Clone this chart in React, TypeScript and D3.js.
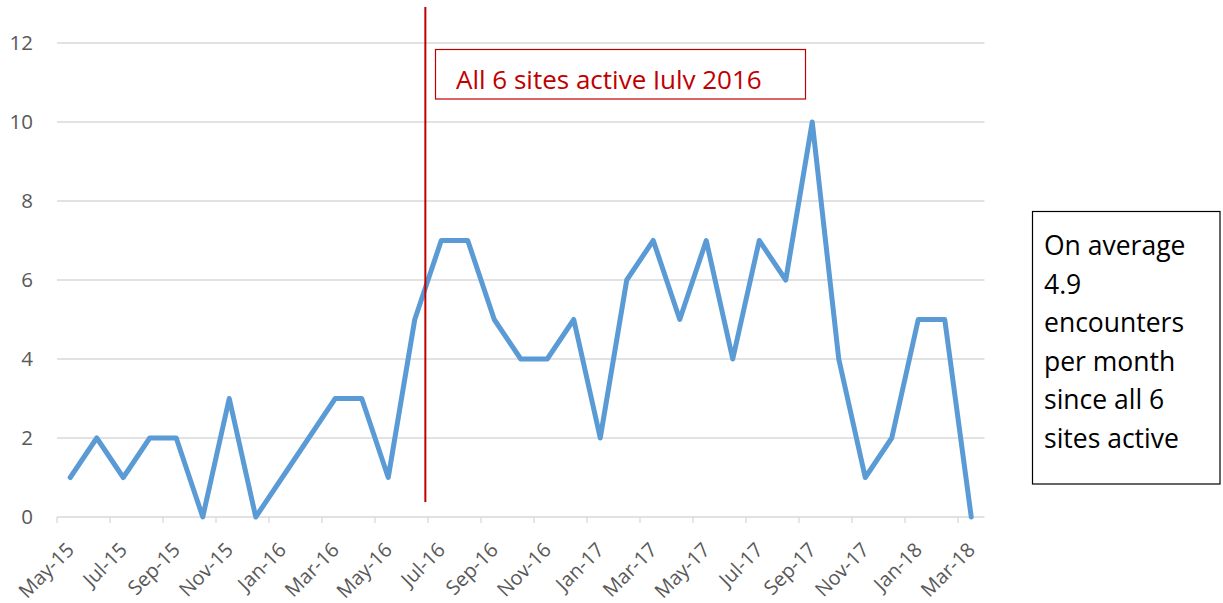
import React, { useRef, useEffect } from "react";
import * as d3 from "d3";

// monthly counts, May-15 .. Mar-18
const months = [
  "May-15", "Jun-15", "Jul-15", "Aug-15", "Sep-15", "Oct-15", "Nov-15", "Dec-15",
  "Jan-16", "Feb-16", "Mar-16", "Apr-16", "May-16", "Jun-16", "Jul-16", "Aug-16",
  "Sep-16", "Oct-16", "Nov-16", "Dec-16", "Jan-17", "Feb-17", "Mar-17", "Apr-17",
  "May-17", "Jun-17", "Jul-17", "Aug-17", "Sep-17", "Oct-17", "Nov-17", "Dec-17",
  "Jan-18", "Feb-18", "Mar-18",
];
const encounters = [
  1, 2, 1, 2, 2, 0, 3, 0,
  1, 2, 3, 3, 1, 5, 7, 7, 5, 4, 4, 5,
  2, 6, 7, 5, 7, 4, 7, 6, 10, 4, 1, 2,
  5, 5, 0,
];
const yTicks = [0, 2, 4, 6, 8, 10, 12];
const markerMonth = 13.9; // just before Jul-16 starts
const markerLabel = "All 6 sites active July 2016";
const noteLines = ["On average", "4.9", "encounters", "per month", "since all 6", "sites active"];

const W = 1223;
const H = 603;
const FONT = "'Open Sans', 'Noto Sans', sans-serif";

const App = () => {
  const svgRef = useRef<SVGSVGElement>(null);

  useEffect(() => {
    const svg = d3.select(svgRef.current);
    svg.selectAll("*").remove();

    const left = 57;
    const right = 984.5;
    const x = d3.scaleBand<string>().domain(months).range([left, right]).padding(0);
    const xLin = d3.scaleLinear().domain([0, months.length]).range([left, right]);
    const y = d3.scaleLinear().domain([0, 12]).range([517, 43]);
    const bw = x.bandwidth();

    // gridlines
    svg.append("g")
      .selectAll("line")
      .data(yTicks)
      .join("line")
      .attr("x1", left)
      .attr("x2", right)
      .attr("y1", (d) => y(d))
      .attr("y2", (d) => y(d))
      .attr("stroke", "#d9d9d9")
      .attr("stroke-width", 1.3);

    // y labels
    svg.append("g")
      .selectAll("text")
      .data(yTicks)
      .join("text")
      .attr("x", 33)
      .attr("y", (d) => y(d))
      .attr("dy", "0.36em")
      .attr("text-anchor", "end")
      .attr("font-family", FONT)
      .attr("font-size", 20.5)
      .attr("fill", "#595959")
      .text((d) => d);

    // x ticks every 2 months
    const every2 = months.filter((_, i) => i % 2 === 0);
    svg.append("g")
      .selectAll("line")
      .data(every2)
      .join("line")
      .attr("x1", (d) => x(d)!)
      .attr("x2", (d) => x(d)!)
      .attr("y1", y(0))
      .attr("y2", y(0) + 6)
      .attr("stroke", "#d9d9d9")
      .attr("stroke-width", 1.3);

    svg.append("g")
      .selectAll("text")
      .data(every2)
      .join("text")
      .attr("transform", (d) => `translate(${x(d)! + bw / 2},${y(0) + 29}) rotate(-45)`)
      .attr("dy", "0.36em")
      .attr("text-anchor", "end")
      .attr("font-family", FONT)
      .attr("font-size", 20)
      .attr("fill", "#595959")
      .text((d) => d);

    // the series
    const ln = d3.line<number>()
      .x((_, i) => x(months[i])! + bw / 2)
      .y((d) => y(d));
    svg.append("path")
      .datum(encounters)
      .attr("d", ln)
      .attr("fill", "none")
      .attr("stroke", "#5b9bd5")
      .attr("stroke-width", 5)
      .attr("stroke-linejoin", "round")
      .attr("stroke-linecap", "round");

    // marker line
    svg.append("line")
      .attr("x1", xLin(markerMonth))
      .attr("x2", xLin(markerMonth))
      .attr("y1", y(12.91))
      .attr("y2", y(0.38))
      .attr("stroke", "#c00000")
      .attr("stroke-width", 2);

    // marker label box (text clipped at its baseline, as in the source)
    svg.append("clipPath")
      .attr("id", "lblclip")
      .append("rect")
      .attr("x", 436)
      .attr("y", 50)
      .attr("width", 368)
      .attr("height", 39.5);
    svg.append("rect")
      .attr("x", 435.5)
      .attr("y", 49.5)
      .attr("width", 370)
      .attr("height", 49.5)
      .attr("fill", "#fff")
      .attr("stroke", "#c00000")
      .attr("stroke-width", 1.2);
    svg.append("text")
      .attr("clip-path", "url(#lblclip)")
      .attr("x", 456)
      .attr("y", 89)
      .attr("font-family", FONT)
      .attr("font-size", 26)
      .attr("fill", "#c00000")
      .text(markerLabel);

    // note box
    svg.append("rect")
      .attr("x", 1032.5)
      .attr("y", 211.5)
      .attr("width", 187.5)
      .attr("height", 272.5)
      .attr("fill", "#fff")
      .attr("stroke", "#000")
      .attr("stroke-width", 1.2);
    svg.append("g")
      .selectAll("text")
      .data(noteLines)
      .join("text")
      .attr("x", 1044)
      .attr("y", (_, i) => 255 + i * 38.5)
      .attr("font-family", FONT)
      .attr("font-size", 26.5)
      .attr("fill", "#000")
      .text((d) => d);
  }, []);

  return (
    <svg
      ref={svgRef}
      width={W}
      height={H}
      style={{ position: "absolute", left: 0, top: 0, background: "#fff" }}
    />
  );
};

export default App;
